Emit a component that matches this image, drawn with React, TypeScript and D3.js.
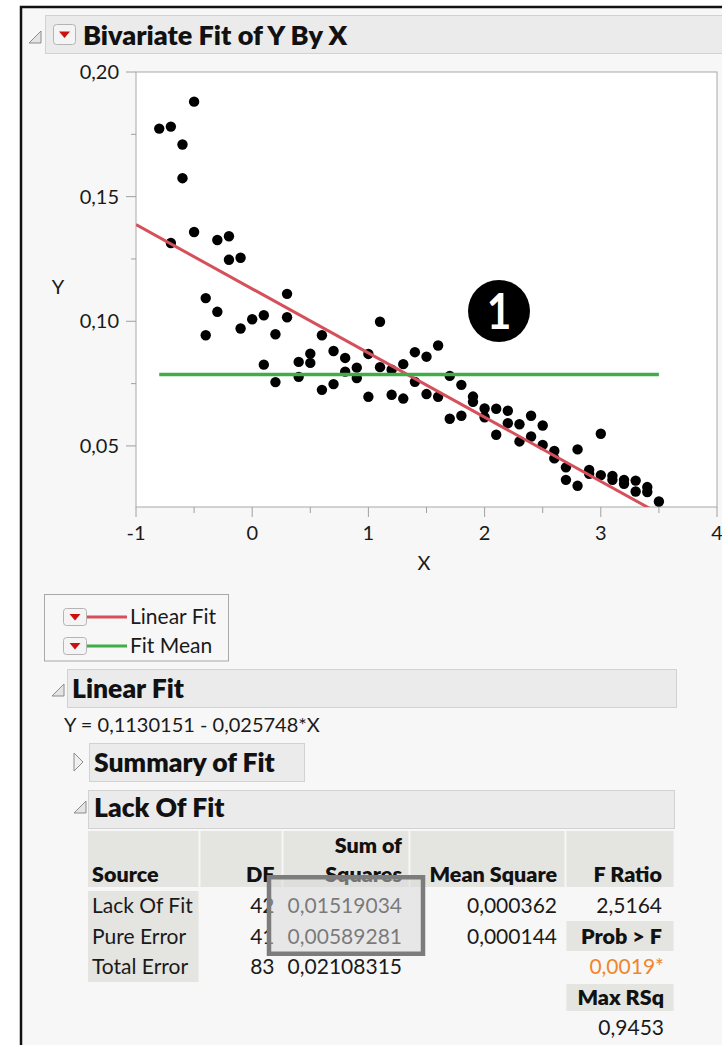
import React from "react";
import * as d3 from "d3";

// Observations: X levels and measured Y (replicates listed together)
const xValues = [
  -0.8,
  -0.7, -0.7,
  -0.6, -0.6,
  -0.5, -0.5,
  -0.4, -0.4,
  -0.3, -0.3,
  -0.2, -0.2,
  -0.1, -0.1,
  0.0,
  0.1, 0.1,
  0.2, 0.2,
  0.3, 0.3,
  0.4, 0.4,
  0.5, 0.5,
  0.6, 0.6,
  0.7, 0.7,
  0.8, 0.8,
  0.9, 0.9,
  1.0, 1.0,
  1.1, 1.1,
  1.2, 1.2,
  1.3, 1.3,
  1.4, 1.4,
  1.5, 1.5,
  1.6, 1.6,
  1.7, 1.7,
  1.8, 1.8,
  1.9, 1.9,
  2.0, 2.0,
  2.1, 2.1,
  2.2, 2.2,
  2.3, 2.3,
  2.4, 2.4,
  2.5, 2.5,
  2.6, 2.6,
  2.7, 2.7,
  2.8, 2.8,
  2.9, 2.9,
  3.0, 3.0,
  3.1, 3.1,
  3.2, 3.2,
  3.3, 3.3,
  3.4, 3.4,
  3.5,
];

const yValues = [
  0.1773,
  0.1781, 0.1314,
  0.1709, 0.1574,
  0.1881, 0.1358,
  0.1093, 0.0944,
  0.1326, 0.1038,
  0.1341, 0.1247,
  0.1255, 0.0971,
  0.1008,
  0.1024, 0.0826,
  0.0948, 0.0756,
  0.111, 0.1016,
  0.0837, 0.0777,
  0.087, 0.0833,
  0.0944, 0.0725,
  0.0881, 0.0748,
  0.0853, 0.0798,
  0.0814, 0.0772,
  0.0869, 0.0697,
  0.0998, 0.0816,
  0.0806, 0.0705,
  0.0828, 0.069,
  0.0876, 0.0757,
  0.0858, 0.0708,
  0.0903, 0.0697,
  0.0781, 0.0609,
  0.0745, 0.0621,
  0.0698, 0.0677,
  0.065, 0.0615,
  0.0649, 0.0545,
  0.0641, 0.0591,
  0.0587, 0.0518,
  0.0621, 0.0538,
  0.0582, 0.0504,
  0.048, 0.045,
  0.0414, 0.0364,
  0.0486, 0.034,
  0.0404, 0.0388,
  0.0549, 0.0383,
  0.038, 0.0364,
  0.0364, 0.0348,
  0.0361, 0.0317,
  0.0335, 0.0315,
  0.0277,
];

// Linear fit coefficients
const fitIntercept = 0.1130151;
const fitSlope = -0.025748;

// Axis ticks
const xTicks = [-1, 0, 1, 2, 3, 4];
const xMinorTicks = [-0.5, 0.5, 1.5, 2.5, 3.5];
const yTicks = [0.05, 0.1, 0.15, 0.2];
const yMinorTicks = [0.075, 0.125, 0.175];

// Lack Of Fit table
const lofColumns = ["Source", "DF", "Sum of|Squares", "Mean Square", "F Ratio"];
const lofSources = ["Lack Of Fit", "Pure Error", "Total Error"];
const lofDF = [42, 41, 83];
const lofSS = [0.01519034, 0.00589281, 0.02108315];
const lofMS = [0.000362, 0.000144];
const fRatio = 2.5164;
const probF = 0.0019;
const maxRSq = 0.9453;

const legendItems = [
  { label: "Linear Fit", color: "#d6505c" },
  { label: "Fit Mean", color: "#3fad48" },
];

const FONT = "Lato, 'Segoe UI', 'Open Sans', sans-serif";
const HEAVY = 800;
const locale = d3.formatLocale({ decimal: ",", thousands: ".", grouping: [3], currency: ["", ""] });
const fmt = (spec: string) => locale.format(spec);

function DropButton({ x, y, w = 23, h = 20 }: { x: number; y: number; w?: number; h?: number }) {
  const cx = w / 2;
  const cy = h / 2;
  return (
    <g transform={`translate(${x},${y})`}>
      <rect x={0.5} y={0.5} width={w - 1} height={h - 1} rx={3} fill="#f4f4f4" stroke="#b4b4b4" />
      <path d={`M${cx - 5.5},${cy - 3} L${cx + 5.5},${cy - 3} L${cx},${cy + 3.5} Z`} fill="#cc1010" />
    </g>
  );
}

function OpenTriangle({ x, y, s = 12 }: { x: number; y: number; s?: number }) {
  return <path d={`M${x + s},${y} L${x + s},${y + s} L${x},${y + s} Z`} fill="#e4e4e4" stroke="#8c8c8c" strokeWidth={1} />;
}

function ClosedTriangle({ x, y, s = 18 }: { x: number; y: number; s?: number }) {
  return <path d={`M${x},${y} L${x + s / 2},${y + s / 2} L${x},${y + s} Z`} fill="#f0f0f0" stroke="#8c8c8c" strokeWidth={1} />;
}

export default function App() {
  const W = 722;
  const H = 1045;

  const x = d3.scaleLinear().domain([-1, 4]).range([136, 717]);
  const y = d3.scaleLinear().domain([0.0255, 0.2]).range([507, 72]);
  const [x0, x1] = x.range();
  const [yb, yt] = y.range();

  const fitLine = d3
    .line<number>()
    .x((d) => x(d))
    .y((d) => y(fitIntercept + fitSlope * d));
  const fitMean = d3.mean(yValues) as number;
  const [xMin, xMax] = d3.extent(xValues) as [number, number];

  const yFmt = fmt(".2f");

  // table geometry
  const colEdges = [
    [88, 198.5],
    [200.5, 281.5],
    [283.5, 408.5],
    [410.5, 564.5],
    [566.5, 673.5],
  ];
  const colRight = [92, 274.5, 402, 557, 662];
  const rowBase = [913, 944, 974];
  const hdrTop = 831;
  const hdrBottom = 887;

  return (
    <svg width={W} height={H} style={{ position: "absolute", left: 0, top: 0 }} fontFamily={FONT}>
      <rect width={W} height={H} fill="#ffffff" />
      {/* report frame */}
      <rect x={21} y={7} width={W} height={H} fill="#f7f7f7" />
      <path d={`M21,${H} V7 H${W}`} fill="none" stroke="#111" strokeWidth={2.5} />

      {/* title bar */}
      <rect x={45.5} y={15.5} width={700} height={38} fill="#ebebeb" stroke="#d2d2d2" />
      <OpenTriangle x={29} y={31} s={12} />
      <DropButton x={53} y={24} w={23} h={21} />
      <text x={83} y={44.5} fontSize={27} fontWeight={HEAVY} fill="#111">
        Bivariate Fit of Y By X
      </text>

      {/* plot frame */}
      <defs>
        <clipPath id="plotClip">
          <rect x={x0} y={yt} width={x1 - x0} height={yb - yt} />
        </clipPath>
      </defs>
      <rect x={x0} y={yt} width={x1 - x0} height={yb - yt} fill="#fff" stroke="#a8a8a8" strokeWidth={1} />

      {/* y axis */}
      {yTicks.map((t) => (
        <g key={`yt${t}`}>
          <line x1={x0 - 10} x2={x0} y1={y(t)} y2={y(t)} stroke="#a0a0a0" />
          <text x={x0 - 17} y={y(t)} dy="0.35em" textAnchor="end" fontSize={20} fill="#1a1a1a">
            {yFmt(t)}
          </text>
        </g>
      ))}
      {yMinorTicks.map((t) => (
        <line key={`ym${t}`} x1={x0 - 5} x2={x0} y1={y(t)} y2={y(t)} stroke="#a0a0a0" />
      ))}
      <text x={58} y={287} dy="0.35em" textAnchor="middle" fontSize={20} fill="#1a1a1a">
        Y
      </text>

      {/* x axis */}
      {xTicks.map((t) => (
        <g key={`xt${t}`}>
          <line x1={x(t)} x2={x(t)} y1={yb} y2={yb + 10} stroke="#a0a0a0" />
          <text x={x(t)} y={533} dy="0.35em" textAnchor="middle" fontSize={20} fill="#1a1a1a">
            {t < 0 ? `-${Math.abs(t)}` : t}
          </text>
        </g>
      ))}
      {xMinorTicks.map((t) => (
        <line key={`xm${t}`} x1={x(t)} x2={x(t)} y1={yb} y2={yb + 6} stroke="#a0a0a0" />
      ))}
      <text x={424} y={563} dy="0.35em" textAnchor="middle" fontSize={20} fill="#1a1a1a">
        X
      </text>

      {/* points and fits */}
      <g clipPath="url(#plotClip)">
        {xValues.map((xv, i) => (
          <circle key={`p${i}`} cx={x(xv)} cy={y(yValues[i])} r={5.2} fill="#000" />
        ))}
        <path d={fitLine([-1, 4]) as string} fill="none" stroke={legendItems[0].color} strokeWidth={3} />
        <line x1={x(xMin)} x2={x(xMax)} y1={y(fitMean)} y2={y(fitMean)} stroke={legendItems[1].color} strokeWidth={3.5} />
      </g>

      {/* callout marker */}
      <circle cx={499} cy={311} r={31} fill="#000" />
      <text
        x={499}
        y={311}
        dy="0.36em"
        textAnchor="middle"
        fontSize={50}
        fontWeight={700}
        fill="#fff"
        transform="translate(499,311) scale(0.85,1) translate(-499,-311)"
      >
        1
      </text>

      {/* legend */}
      <rect x={44.5} y={594.5} width={184} height={66.5} fill="none" stroke="#a8a8a8" />
      {legendItems.map((item, i) => {
        const cy = 617 + i * 29;
        return (
          <g key={item.label}>
            <DropButton x={63} y={cy - 9} w={24} h={18} />
            <line x1={87} x2={127} y1={cy} y2={cy} stroke={item.color} strokeWidth={3} />
            <text x={130} y={cy} dy="0.35em" fontSize={21} fill="#1a1a1a">
              {item.label}
            </text>
          </g>
        );
      })}

      {/* Linear Fit section */}
      <rect x={67.5} y={669.5} width={609} height={38} fill="#ebebeb" stroke="#d2d2d2" />
      <OpenTriangle x={52} y={684} s={12} />
      <text x={72} y={698} fontSize={26.5} fontWeight={HEAVY} fill="#111">
        Linear Fit
      </text>
      <text x={64} y={732} fontSize={20} fill="#1a1a1a">
        {`Y = ${fmt(".7f")(fitIntercept)} - ${fmt(".6f")(Math.abs(fitSlope))}*X`}
      </text>

      {/* Summary of Fit (collapsed) */}
      <ClosedTriangle x={74} y={753} s={18} />
      <rect x={89.5} y={743.5} width={215} height={38} fill="#ebebeb" stroke="#d2d2d2" />
      <text x={94} y={772} fontSize={26.5} fontWeight={HEAVY} fill="#111">
        Summary of Fit
      </text>

      {/* Lack Of Fit section */}
      <rect x={88.5} y={790.5} width={586} height={38} fill="#ebebeb" stroke="#d2d2d2" />
      <OpenTriangle x={74} y={801} s={12} />
      <text x={94} y={817} fontSize={26.5} fontWeight={HEAVY} fill="#111">
        Lack Of Fit
      </text>

      {/* table header cells */}
      {colEdges.map(([a, b], i) => (
        <rect key={`hc${i}`} x={a} y={hdrTop} width={b - a} height={hdrBottom - hdrTop} fill="#e4e4e0" />
      ))}
      <rect x={88} y={891} width={110.5} height={91} fill="#e4e4e0" />
      {lofColumns.map((c, i) => {
        const parts = c.split("|");
        return (
          <g key={`h${i}`}>
            {parts.map((p, j) => (
              <text
                key={j}
                x={colRight[i]}
                y={882 - (parts.length - 1 - j) * 29}
                textAnchor={i === 0 ? "start" : "end"}
                fontSize={21.5}
                fontWeight={HEAVY}
                fill="#111"
              >
                {p}
              </text>
            ))}
          </g>
        );
      })}

      {/* table rows */}
      {lofSources.map((s, i) => (
        <g key={`r${i}`}>
          <text x={colRight[0]} y={rowBase[i]} fontSize={21} fill="#1a1a1a">
            {s}
          </text>
          <text x={colRight[1]} y={rowBase[i]} textAnchor="end" fontSize={21} fill="#1a1a1a">
            {lofDF[i]}
          </text>
          <text x={colRight[2]} y={rowBase[i]} textAnchor="end" fontSize={21} fill="#1a1a1a">
            {fmt(".8f")(lofSS[i])}
          </text>
          {i < lofMS.length && (
            <text x={colRight[3]} y={rowBase[i]} textAnchor="end" fontSize={21} fill="#1a1a1a">
              {fmt(".6f")(lofMS[i])}
            </text>
          )}
        </g>
      ))}

      {/* F ratio stack */}
      <text x={colRight[4]} y={rowBase[0]} textAnchor="end" fontSize={21} fill="#1a1a1a">
        {fmt(".4f")(fRatio)}
      </text>
      <rect x={566.5} y={921} width={107} height={30} fill="#e4e4e0" />
      <text x={colRight[4]} y={944} textAnchor="end" fontSize={21.5} fontWeight={HEAVY} fill="#111">
        {"Prob > F"}
      </text>
      <text x={colRight[4] + 2} y={974} textAnchor="end" fontSize={21} fill="#f0862c">
        {`${fmt(".4f")(probF)}*`}
      </text>
      <rect x={566.5} y={984} width={107} height={27} fill="#e4e4e0" />
      <text x={colRight[4] + 2} y={1005} textAnchor="end" fontSize={21.5} fontWeight={HEAVY} fill="#111">
        Max RSq
      </text>
      <text x={colRight[4] + 2} y={1035} textAnchor="end" fontSize={21} fill="#1a1a1a">
        {fmt(".4f")(maxRSq)}
      </text>

      {/* highlight box over sums of squares */}
      <rect x={269} y={877.25} width={154} height={76.5} fill="rgba(215,215,215,0.5)" stroke="#7c7c7c" strokeWidth={4.5} />
    </svg>
  );
}
